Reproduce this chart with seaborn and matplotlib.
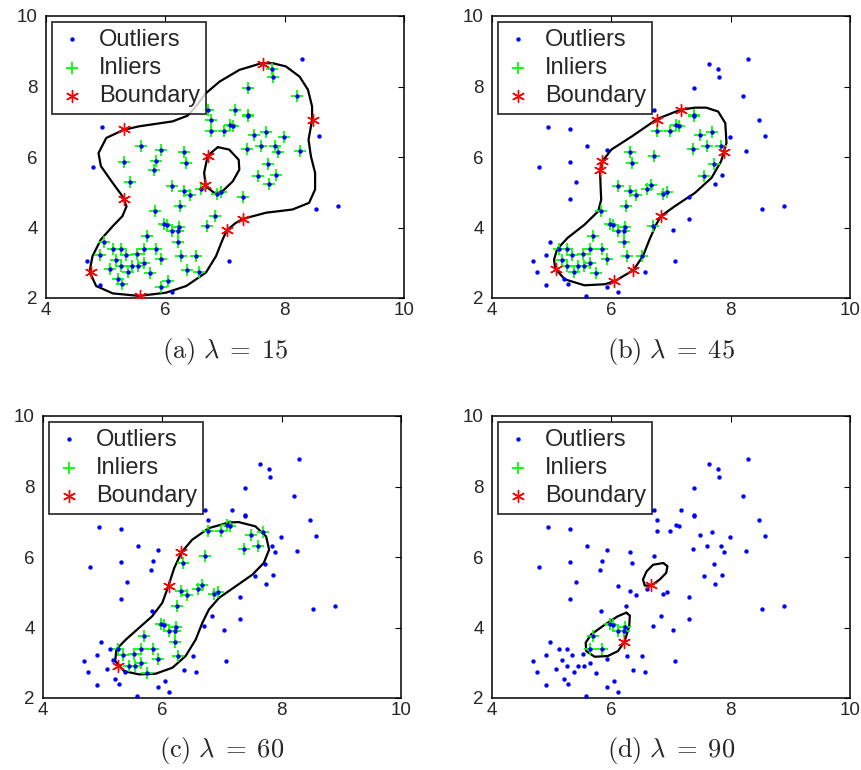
import numpy as np
import pandas as pd
import matplotlib
matplotlib.use('Agg')
import matplotlib.pyplot as plt
import seaborn as sns

sns.set_style('white')
plt.rcParams['font.family'] = ['Liberation Sans', 'DejaVu Sans']
plt.rcParams['mathtext.fontset'] = 'cm'

# data points (same sample in every panel), ids 1..96
pt_x = [8.29, 7.63, 7.79, 7.80, 7.39, 8.20, 6.72, 7.16, 7.39, 7.38,
        6.77, 8.47, 7.09, 7.13, 4.94, 5.31, 6.77, 6.99, 7.69, 7.49,
        8.57, 7.99, 5.60, 7.60, 7.84, 7.37, 5.92, 6.32, 8.25, 7.88,
        6.72, 5.30, 5.85, 6.34, 7.72, 4.78, 5.81, 7.56, 7.86, 5.40,
        7.73, 6.11, 6.67, 6.60, 6.31, 6.87, 6.94, 6.42, 7.31, 5.30,
        6.25, 5.82, 8.53, 8.90, 6.83, 7.31, 5.98, 6.03, 6.23, 6.12,
        6.22, 6.70, 7.04, 5.70, 6.22, 4.97, 5.13, 5.26, 5.65, 5.85,
        5.53, 4.90, 5.34, 6.27, 6.51, 5.92, 5.17, 4.69, 7.07, 5.65,
        5.25, 5.44, 5.55, 5.07, 6.36, 4.76, 5.37, 5.75, 6.57, 5.20,
        6.04, 4.91, 5.28, 5.93, 6.11, 5.57]
pt_y = [8.78, 8.64, 8.49, 8.28, 7.96, 7.74, 7.32, 7.32, 7.20, 7.15,
        7.06, 7.04, 6.92, 6.87, 6.85, 6.79, 6.73, 6.73, 6.72, 6.63,
        6.60, 6.56, 6.32, 6.31, 6.31, 6.22, 6.20, 6.15, 6.16, 6.14,
        6.03, 5.86, 5.89, 5.83, 5.81, 5.73, 5.62, 5.45, 5.49, 5.30,
        5.24, 5.18, 5.20, 5.10, 5.03, 4.96, 5.00, 4.92, 4.87, 4.81,
        4.62, 4.46, 4.53, 4.62, 4.32, 4.25, 4.11, 4.06, 4.02, 3.90,
        3.90, 4.03, 3.92, 3.75, 3.59, 3.58, 3.38, 3.38, 3.38, 3.38,
        3.26, 3.23, 3.23, 3.20, 3.20, 3.12, 3.09, 3.05, 3.05, 3.00,
        2.92, 2.92, 2.91, 2.81, 2.79, 2.74, 2.74, 2.71, 2.75, 2.55,
        2.47, 2.37, 2.40, 2.30, 2.16, 2.06]

# inlier / boundary ids per panel (everything else is an outlier)
inl_a = [3, 4, 5, 6, 7, 8, 9, 10, 11, 13, 14, 17, 18, 19, 20, 22, 23, 24, 25,
         26, 27, 28, 29, 30, 32, 33, 34, 35, 37, 38, 39, 40, 41, 42, 44, 45, 46,
         47, 48, 49, 51, 52, 55, 57, 58, 59, 60, 61, 62, 64, 65, 66, 67, 68, 69,
         70, 71, 72, 73, 74, 75, 76, 77, 80, 81, 82, 83, 84, 85, 87, 88, 89, 90,
         91, 93, 94]
bnd_a = [2, 12, 16, 31, 43, 50, 56, 63, 86, 96]
inl_b = [9, 10, 13, 14, 17, 18, 19, 20, 24, 25, 26, 28, 31, 34, 35, 38, 42, 43,
         44, 45, 46, 47, 48, 51, 52, 57, 58, 59, 60, 61, 62, 64, 65, 67, 68, 69,
         70, 71, 73, 74, 75, 76, 77, 80, 81, 82, 83, 87, 88]
bnd_b = [8, 11, 30, 33, 37, 55, 84, 85, 91]
inl_c = [13, 14, 17, 18, 19, 20, 24, 26, 31, 34, 43, 44, 45, 46, 47, 48, 51, 57,
         58, 59, 60, 61, 64, 65, 68, 69, 70, 71, 73, 74, 76, 80, 82, 83, 88]
bnd_c = [28, 42, 81]
inl_d = [57, 58, 59, 60, 61, 64, 69, 70]
bnd_d = [43, 65]

# traced decision boundaries
ca_x = [7.61, 7.80, 8.02, 8.25, 8.39, 8.46, 8.46, 8.40, 8.44, 8.51, 8.51, 8.41,
        8.13, 7.69, 7.31, 7.18, 7.03, 6.96, 6.85, 6.68, 6.35, 6.01, 5.56, 5.12,
        4.84, 4.73, 4.78, 4.92, 5.12, 5.28, 5.35, 5.28, 5.12, 4.92, 4.88, 5.01,
        5.30, 5.56, 6.12, 6.37, 6.51, 6.68, 6.91, 7.24]
ca_y = [8.66, 8.66, 8.57, 8.28, 7.91, 7.43, 7.06, 6.49, 6.02, 5.55, 5.08, 4.70,
        4.51, 4.42, 4.25, 4.13, 3.92, 3.66, 3.19, 2.72, 2.34, 2.15, 2.06, 2.13,
        2.34, 2.75, 3.19, 3.66, 4.04, 4.32, 4.60, 4.89, 5.26, 5.74, 6.11, 6.54,
        6.77, 6.87, 7.01, 7.17, 7.43, 7.81, 8.14, 8.47]
ca2_x = [6.88, 7.07, 7.23, 7.24, 7.13, 6.96, 6.82, 6.68, 6.65, 6.71]
ca2_y = [6.28, 6.21, 5.92, 5.64, 5.31, 5.03, 4.98, 5.17, 5.55, 6.04]
cb_x = [7.16, 7.40, 7.59, 7.79, 7.91, 7.93, 7.84, 7.68, 7.40, 7.06, 6.83, 6.75,
        6.64, 6.53, 6.37, 6.06, 5.89, 5.55, 5.22, 5.06, 5.04, 5.09, 5.27, 5.55,
        5.78, 5.83, 5.82, 5.81, 5.85, 6.00, 6.34, 6.77]
cb_y = [7.34, 7.40, 7.40, 7.29, 6.96, 6.40, 5.88, 5.41, 4.98, 4.60, 4.32, 4.08,
        3.66, 3.19, 2.79, 2.48, 2.39, 2.36, 2.53, 2.83, 3.09, 3.38, 3.71, 4.08,
        4.46, 4.79, 5.17, 5.62, 5.88, 6.21, 6.58, 7.08]
cc_x = [7.12, 7.28, 7.56, 7.74, 7.79, 7.70, 7.51, 7.23, 6.95, 6.78, 6.67, 6.56,
        6.39, 6.17, 5.89, 5.61, 5.36, 5.21, 5.23, 5.39, 5.61, 5.83, 6.00, 6.10,
        6.20, 6.32, 6.50, 6.78]
cc_y = [6.98, 6.99, 6.87, 6.58, 6.21, 5.83, 5.50, 5.17, 4.84, 4.51, 4.13, 3.66,
        3.19, 2.86, 2.69, 2.67, 2.76, 3.05, 3.38, 3.66, 3.99, 4.32, 4.70, 5.17,
        5.69, 6.13, 6.49, 6.82]
cd1_x = [6.87, 6.94, 6.92, 6.81, 6.67, 6.56, 6.53, 6.59, 6.70]
cd1_y = [5.83, 5.74, 5.55, 5.36, 5.19, 5.19, 5.36, 5.59, 5.78]
cd2_x = [6.25, 6.31, 6.30, 6.22, 6.11, 5.94, 5.72, 5.58, 5.57, 5.66, 5.89, 6.11]
cd2_y = [4.42, 4.34, 4.04, 3.59, 3.33, 3.19, 3.17, 3.33, 3.57, 3.80, 4.08, 4.32]

captions = [r'$\mathrm{(a)}\ \lambda\;=\;15$', r'$\mathrm{(b)}\ \lambda\;=\;45$',
            r'$\mathrm{(c)}\ \lambda\;=\;60$', r'$\mathrm{(d)}\ \lambda\;=\;90$']

panels = [
    (inl_a, bnd_a, [(ca_x, ca_y), (ca2_x, ca2_y)]),
    (inl_b, bnd_b, [(cb_x, cb_y)]),
    (inl_c, bnd_c, [(cc_x, cc_y)]),
    (inl_d, bnd_d, [(cd1_x, cd1_y), (cd2_x, cd2_y)]),
]

W, H = 861, 770
fig = plt.figure(figsize=(W / 100, H / 100), dpi=100)
boxes = [(46, 16), (492, 16), (43, 416), (492, 416)]
aw, ah = 358, 282

pts = pd.DataFrame({'id': np.arange(1, len(pt_x) + 1), 'x': pt_x, 'y': pt_y})

for k, ((inl, bnd, curves), (px, py)) in enumerate(zip(panels, boxes)):
    ax = fig.add_axes([px / W, 1 - (py + ah) / H, aw / W, ah / H])
    status = np.where(pts['id'].isin(bnd), 'b',
                      np.where(pts['id'].isin(inl), 'i', 'o'))
    df = pts.assign(status=status)

    for cx, cy in curves:
        sns.lineplot(x=cx + cx[:1], y=cy + cy[:1], sort=False, estimator=None,
                     color='black', lw=1.6, ax=ax, zorder=1.5)

    h_in = sns.scatterplot(data=df[df.status == 'i'], x='x', y='y', marker='+',
                           color='#00ff00', s=85, linewidth=1.3, ax=ax,
                           zorder=2).collections[-1]
    h_out = sns.scatterplot(data=df[df.status != 'b'], x='x', y='y', marker='o',
                            color='#0000ff', s=10, linewidth=0, ax=ax,
                            zorder=3).collections[-1]
    h_b = sns.scatterplot(data=df[df.status == 'b'], x='x', y='y',
                          marker=(6, 2, 0), color='#ff0000', s=75,
                          linewidth=1.0, ax=ax, zorder=4).collections[-1]

    ax.set_xlim(4, 10)
    ax.set_ylim(2, 10)
    ax.set_xticks([4, 6, 8, 10])
    ax.set_yticks([2, 4, 6, 8, 10])
    ax.set_xlabel('')
    ax.set_ylabel('')
    ax.tick_params(direction='in', top=True, right=True, length=4,
                   labelsize=13.5, color='black')
    ax.tick_params(axis='x', pad=3)
    ax.tick_params(axis='y', pad=6)
    for sp in ax.spines.values():
        sp.set_color('black')
        sp.set_linewidth(1.1)

    leg = ax.legend([h_out, h_in, h_b], ['Outliers', 'Inliers', 'Boundary'],
                    loc='upper left', fontsize=17, frameon=True, fancybox=False,
                    borderaxespad=0.25, borderpad=0.28, labelspacing=0.27,
                    handlelength=1.1, handletextpad=0.6, scatterpoints=1)
    leg.get_frame().set_edgecolor('black')
    leg.get_frame().set_linewidth(1.3)

    cap_y = 352 if k < 2 else 750
    fig.text((px + aw / 2) / W, 1 - cap_y / H, captions[k], ha='center',
             va='center', fontsize=19)

fig.savefig('out.png', dpi=100)
